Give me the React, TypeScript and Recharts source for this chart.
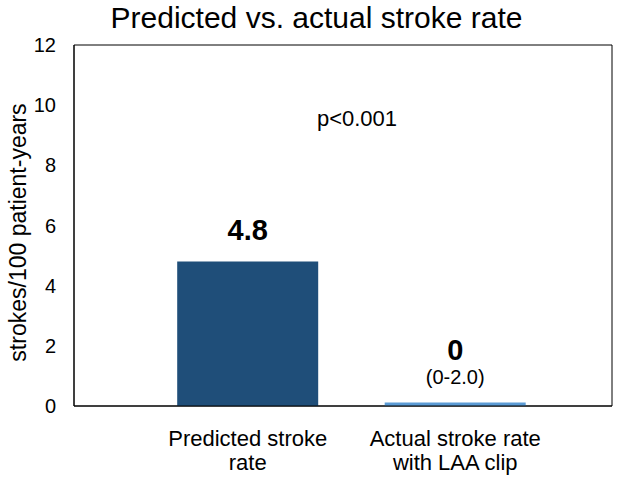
import { BarChart, Bar, XAxis, YAxis, ReferenceArea, ReferenceDot, LabelList, Cell } from 'recharts';

const categories = ['Predicted stroke rate', 'Actual stroke rate with LAA clip'];
const tickLines = [['Predicted stroke', 'rate'], ['Actual stroke rate', 'with LAA clip']];
const rates = [4.8, 0.12];
const valueLabels = ['4.8', '0'];
const rangeLabels = ['', '(0-2.0)'];
const barColors = ['#1F4E79', '#5B9BD5'];
const yTicks = [0, 2, 4, 6, 8, 10, 12];

const data = categories.map((name, i) => ({ name, rate: rates[i], idx: i }));

const font = '"Liberation Sans", Arial, sans-serif';

const CategoryTick = (props: any) => {
    const { x, y, index } = props;
    const lines = tickLines[index] || [];
    return (
        <g>
            {lines.map((line, k) => (
                <text key={k} x={x} y={y + 26 + k * 24} textAnchor="middle" fontSize={22} fill="#000" fontFamily={font} dominantBaseline="middle">
                    {line}
                </text>
            ))}
        </g>
    );
};

const ValueLabel = (props: any) => {
    const { x, y, width, index } = props;
    const cx = x + width / 2;
    const range = rangeLabels[index];
    if (range) {
        return (
            <g>
                <text x={cx} y={y - 50} textAnchor="middle" dominantBaseline="middle" fontSize={29} fontWeight="bold" fill="#000" fontFamily={font}>
                    {valueLabels[index]}
                </text>
                <text x={cx} y={y - 24} textAnchor="middle" dominantBaseline="middle" fontSize={20} fill="#000" fontFamily={font}>
                    {range}
                </text>
            </g>
        );
    }
    return (
        <text x={cx} y={y - 29} textAnchor="middle" dominantBaseline="middle" fontSize={29} fontWeight="bold" fill="#000" fontFamily={font}>
            {valueLabels[index]}
        </text>
    );
};

// rotated axis title, placed from the axis viewBox
const YTitle = (props: any) => {
    const { viewBox } = props;
    const cx = viewBox.x + 20;
    const cy = viewBox.y + viewBox.height / 2 + 7;
    return (
        <text transform={`translate(${cx},${cy}) rotate(-90)`} textAnchor="middle" dominantBaseline="middle" fontSize={23} fill="#000" fontFamily={font}>
            strokes/100 patient-years
        </text>
    );
};

export default function App() {
    return (
        <div style={{ position: 'fixed', left: 0, top: 0, width: 633, height: 477, background: '#fff' }}>
            <div style={{ position: 'absolute', left: 0, top: 1, width: 633, textAlign: 'center', fontFamily: font, fontSize: 30, lineHeight: '34px', color: '#000' }}>
                Predicted vs. actual stroke rate
            </div>
            <BarChart width={633} height={477} data={data} margin={{ top: 45, right: 21, left: 0, bottom: 0 }} barCategoryGap="16%">
                <XAxis
                    dataKey="name"
                    height={71}
                    axisLine={{ stroke: '#000' }}
                    tickLine={false}
                    tick={<CategoryTick />}
                    padding={{ left: 70, right: 53 }}
                    interval={0}
                />
                <XAxis xAxisId="pos" type="number" domain={[0, 1]} hide />
                <YAxis
                    domain={[0, 12]}
                    ticks={yTicks}
                    width={74}
                    axisLine={{ stroke: '#000' }}
                    tickLine={false}
                    tickMargin={12}
                    tick={{ fill: '#000', fontSize: 20, fontFamily: font }}
                    label={{ content: <YTitle /> }}
                />
                <ReferenceArea xAxisId="pos" x1={0} x2={1} y1={0} y2={12} fill="none" stroke="#000" strokeWidth={1} />
                <ReferenceDot
                    xAxisId="pos"
                    x={0.526}
                    y={9.57}
                    r={0}
                    label={{ value: 'p<0.001', position: 'center', fontSize: 22, fill: '#000', fontFamily: font }}
                />
                <Bar dataKey="rate" isAnimationActive={false}>
                    {data.map((d) => (
                        <Cell key={d.idx} fill={barColors[d.idx]} />
                    ))}
                    <LabelList dataKey="rate" content={<ValueLabel />} />
                </Bar>
            </BarChart>
        </div>
    );
}
